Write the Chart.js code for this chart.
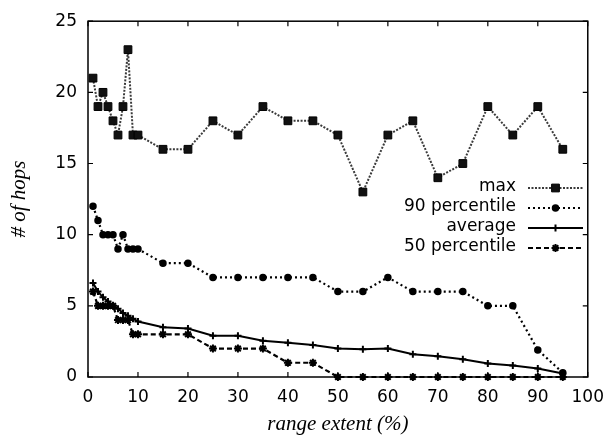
<!DOCTYPE html>
<html lang="en">
<head>
    <meta charset="UTF-8">
    <title>Hops vs range extent</title>
    <script src="https://cdn.jsdelivr.net/npm/chart.js"></script>
    <style>
        html, body { margin: 0; padding: 0; background: #fff; }
        #hopsChart { display: block; }
    </style>
</head>
<body>
    <canvas id="hopsChart" width="614" height="439"></canvas>

    <script>
        // values
        const extentPct = [1, 2, 3, 4, 5, 6, 7, 8, 9, 10, 15, 20, 25, 30, 35, 40, 45, 50, 55, 60, 65, 70, 75, 80, 85, 90, 95];
        const maxHops = [21, 19, 20, 19, 18, 17, 19, 23, 17, 17, 16, 16, 18, 17, 19, 18, 18, 17, 13, 17, 18, 14, 15, 19, 17, 19, 16];
        const p90Hops = [12, 11, 10, 10, 10, 9, 10, 9, 9, 9, 8, 8, 7, 7, 7, 7, 7, 6, 6, 7, 6, 6, 6, 5, 5, 1.9, 0.3];
        const avgHops = [6.6, 6.0, 5.6, 5.3, 5.0, 4.8, 4.5, 4.3, 4.1, 3.9, 3.5, 3.4, 2.9, 2.9, 2.55, 2.4, 2.25, 2.0, 1.95, 2.0, 1.6, 1.45, 1.25, 0.95, 0.8, 0.6, 0.25];
        const p50Hops = [6, 5, 5, 5, 5, 4, 4, 4, 3, 3, 3, 3, 2, 2, 2, 1, 1, 0, 0, 0, 0, 0, 0, 0, 0, 0, 0];

        const xTicks = [0, 10, 20, 30, 40, 50, 60, 70, 80, 90, 100];
        const yTicks = [0, 5, 10, 15, 20, 25];

        const tickFont = { family: 'DejaVu Sans', size: 17 };
        const titleFont = { family: 'Liberation Serif', style: 'italic', size: 21 };

        function toPoints(values) {
            return values.map((v, i) => ({ x: extentPct[i], y: v }));
        }

        // frame round the plot with gnuplot-style inward ticks
        const frameTicks = {
            id: 'frameTicks',
            beforeDatasetsDraw(chart) {
                const { ctx, chartArea: a, scales } = chart;
                ctx.save();
                ctx.strokeStyle = '#000';
                ctx.lineWidth = 1.5;
                ctx.strokeRect(a.left, a.top, a.right - a.left, a.bottom - a.top);
                ctx.lineWidth = 1.2;
                ctx.beginPath();
                xTicks.forEach(v => {
                    const px = scales.x.getPixelForValue(v);
                    ctx.moveTo(px, a.bottom); ctx.lineTo(px, a.bottom - 5);
                    ctx.moveTo(px, a.top); ctx.lineTo(px, a.top + 5);
                });
                yTicks.forEach(v => {
                    const py = scales.y.getPixelForValue(v);
                    ctx.moveTo(a.left, py); ctx.lineTo(a.left + 5, py);
                    ctx.moveTo(a.right, py); ctx.lineTo(a.right - 5, py);
                });
                ctx.stroke();
                ctx.restore();
            }
        };

        // key in the gnuplot layout: text on the left, sample on the right
        const keyBox = {
            id: 'keyBox',
            afterDraw(chart) {
                const ctx = chart.ctx;
                const textRight = 516, lineFrom = 528, lineTo = 583, firstRow = 188, rowGap = 20;
                ctx.save();
                chart.data.datasets.forEach((ds, i) => {
                    const y = firstRow + i * rowGap;
                    ctx.fillStyle = '#000';
                    ctx.font = '17px "DejaVu Sans"';
                    ctx.textAlign = 'right';
                    ctx.textBaseline = 'middle';
                    ctx.fillText(ds.label, textRight, y - 1);

                    ctx.strokeStyle = ds.borderColor;
                    ctx.lineWidth = ds.borderWidth;
                    ctx.setLineDash(ds.borderDash || []);
                    ctx.beginPath();
                    ctx.moveTo(lineFrom, y);
                    ctx.lineTo(lineTo, y);
                    ctx.stroke();
                    ctx.setLineDash([]);

                    // drawPoint uses the current fill and stroke
                    ctx.fillStyle = ds.pointBackgroundColor;
                    ctx.strokeStyle = ds.pointBorderColor;
                    ctx.lineWidth = ds.pointBorderWidth;
                    Chart.helpers.drawPoint(ctx, {
                        pointStyle: ds.pointStyle,
                        radius: ds.pointRadius,
                        borderWidth: ds.pointBorderWidth,
                        rotation: 0
                    }, (lineFrom + lineTo) / 2, y);
                });
                ctx.restore();
            }
        };

        const ctx = document.getElementById('hopsChart').getContext('2d');
        new Chart(ctx, {
            type: 'line',
            data: {
                datasets: [
                    {
                        label: 'max',
                        data: toPoints(maxHops),
                        borderColor: '#3a3a3a',
                        borderWidth: 2,
                        borderDash: [2, 1.5],
                        pointStyle: 'rect',
                        pointRadius: 5.5,
                        pointBorderWidth: 1,
                        pointBackgroundColor: '#111',
                        pointBorderColor: '#000',
                        tension: 0,
                        clip: false
                    },
                    {
                        label: '90 percentile',
                        data: toPoints(p90Hops),
                        borderColor: '#000',
                        borderWidth: 2.2,
                        borderDash: [2, 3],
                        pointStyle: 'circle',
                        pointRadius: 3,
                        pointBorderWidth: 1.5,
                        pointBackgroundColor: '#000',
                        pointBorderColor: '#000',
                        tension: 0,
                        clip: false
                    },
                    {
                        label: 'average',
                        data: toPoints(avgHops),
                        borderColor: '#000',
                        borderWidth: 2,
                        borderDash: [],
                        pointStyle: 'cross',
                        pointRadius: 3.5,
                        pointBorderWidth: 2,
                        pointBackgroundColor: '#000',
                        pointBorderColor: '#000',
                        tension: 0,
                        clip: false
                    },
                    {
                        label: '50 percentile',
                        data: toPoints(p50Hops),
                        borderColor: '#000',
                        borderWidth: 2.2,
                        borderDash: [5, 3],
                        pointStyle: 'star',
                        pointRadius: 4,
                        pointBorderWidth: 2,
                        pointBackgroundColor: '#000',
                        pointBorderColor: '#000',
                        tension: 0,
                        clip: false
                    }
                ]
            },
            options: {
                responsive: false,
                animation: false,
                layout: { padding: { top: 19, right: 16, left: 0, bottom: 0 } },
                plugins: {
                    legend: { display: false },
                    tooltip: { enabled: false }
                },
                scales: {
                    x: {
                        type: 'linear',
                        min: 0,
                        max: 100,
                        afterBuildTicks: s => { s.ticks = xTicks.map(v => ({ value: v })); },
                        afterFit: s => { s.height = 62; },
                        ticks: { font: tickFont, color: '#000', padding: 10, maxRotation: 0 },
                        grid: { display: false, drawTicks: false },
                        border: { display: false },
                        title: { display: true, text: 'range extent (%)', font: titleFont, color: '#000', padding: { top: 0, bottom: 2 } }
                    },
                    y: {
                        type: 'linear',
                        min: 0,
                        max: 25,
                        afterBuildTicks: s => { s.ticks = yTicks.map(v => ({ value: v })); },
                        afterFit: s => { s.width = 88; },
                        ticks: { font: tickFont, color: '#000', padding: 11 },
                        grid: { display: false, drawTicks: false },
                        border: { display: false },
                        title: { display: true, text: '# of hops', font: titleFont, color: '#000', padding: { top: 7, bottom: 0 } }
                    }
                }
            },
            plugins: [frameTicks, keyBox]
        });
    </script>
</body>
</html>
